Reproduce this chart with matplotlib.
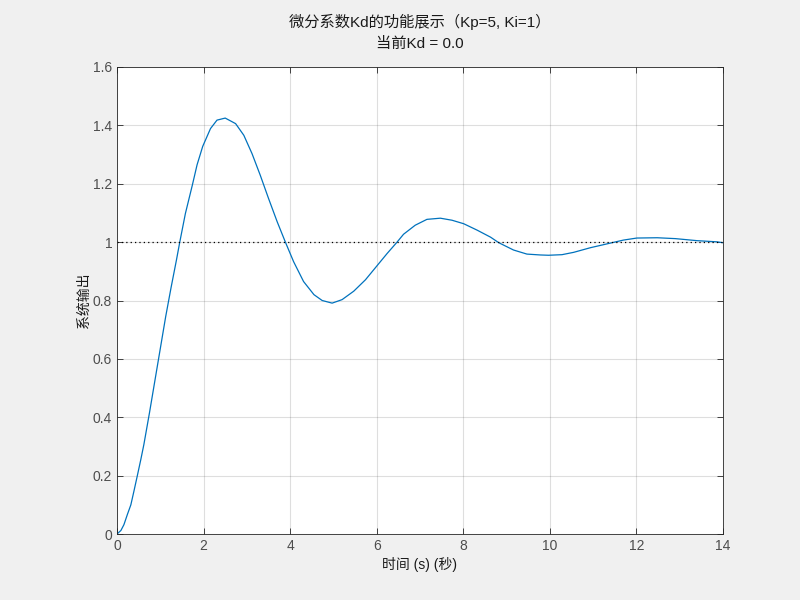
import matplotlib
matplotlib.use("Agg")
import matplotlib.pyplot as plt
from matplotlib.ticker import FuncFormatter

plt.rcParams['font.family'] = ['Liberation Sans', 'Noto Sans CJK SC', 'DejaVu Sans']

# Data (time in s, system output)
t = [0, 0.09, 0.16, 0.24, 0.32, 0.39, 0.47, 0.55, 0.62, 0.75, 0.875, 1.0, 1.125,
     1.25, 1.375, 1.45, 1.58, 1.74, 1.85, 1.98, 2.16, 2.31, 2.5, 2.74, 2.93, 3.12,
     3.31, 3.5, 3.7, 3.89, 4.08, 4.31, 4.55, 4.74, 4.97, 5.2, 5.47, 5.74, 5.99,
     6.24, 6.47, 6.62, 6.89, 7.16, 7.47, 7.74, 8.01, 8.32, 8.63, 8.82, 9.16, 9.47,
     9.78, 9.97, 10.28, 10.55, 10.94, 11.32, 11.70, 12.01, 12.48, 12.9, 13.4,
     13.86, 14.0]
y = [0, 0.012, 0.032, 0.067, 0.10, 0.146, 0.2, 0.255, 0.306, 0.415, 0.525, 0.635,
     0.745, 0.845, 0.94, 1.0, 1.098, 1.195, 1.265, 1.328, 1.389, 1.418, 1.425, 1.406,
     1.366, 1.303, 1.229, 1.15, 1.07, 1.0, 0.933, 0.865, 0.82, 0.80, 0.791, 0.803,
     0.832, 0.871, 0.916, 0.961, 1.0, 1.027, 1.058, 1.078, 1.082, 1.075, 1.063,
     1.041, 1.017, 0.998, 0.973, 0.959, 0.956, 0.955, 0.957, 0.965, 0.981, 0.994,
     1.007, 1.014, 1.015, 1.012, 1.005, 1.001, 0.998]
ref_level = 1.0
xticks = [0, 2, 4, 6, 8, 10, 12, 14]
yticks = [0, 0.2, 0.4, 0.6, 0.8, 1.0, 1.2, 1.4, 1.6]
title_text = "微分系数Kd的功能展示（Kp=5, Ki=1）\n当前Kd = 0.0"
xlabel_text = "时间 (s) (秒)"
ylabel_text = "系统输出"

fig = plt.figure(figsize=(8, 6), dpi=100, facecolor='#f0f0f0')
ax = fig.add_axes([117/800, 66/600, 606/800, 467/600])
ax.set_facecolor('white')

ax.plot(t, y, color='#0072BD', linewidth=0.9)
ax.plot([xticks[0], xticks[-1]], [ref_level, ref_level], color='black',
        linestyle=(0, (1, 2.5)), linewidth=0.9)

ax.set_xlim(0, 14)
ax.set_ylim(0, 1.6)
ax.set_xticks(xticks)
ax.set_yticks(yticks)
fmt = FuncFormatter(lambda v, p: f"{v:g}")
ax.xaxis.set_major_formatter(fmt)
ax.yaxis.set_major_formatter(fmt)

ax.grid(True, color='#262626', alpha=0.15, linewidth=0.8)
ax.set_axisbelow(True)
for s in ax.spines.values():
    s.set_color('#262626')
    s.set_linewidth(0.6)
ax.tick_params(direction='in', length=4, width=0.6, colors='#262626',
               labelcolor='#4d4d4d', labelsize=10, top=True, right=True,
               labeltop=False, labelright=False)

ax.set_title(title_text, fontsize=11, color='#1a1a1a', pad=14,
             fontfamily=['Liberation Sans', 'Noto Sans CJK SC'], linespacing=1.55)
ax.set_xlabel(xlabel_text, fontsize=10, color='#1a1a1a', labelpad=3,
              fontfamily=['Liberation Sans', 'Noto Sans CJK SC'])
ax.set_ylabel(ylabel_text, fontsize=10, color='#1a1a1a',
              fontfamily=['Noto Sans CJK SC'])
ax.yaxis.set_label_coords(-0.043, 0.5)

fig.savefig('out.png', dpi=100, facecolor=fig.get_facecolor())
